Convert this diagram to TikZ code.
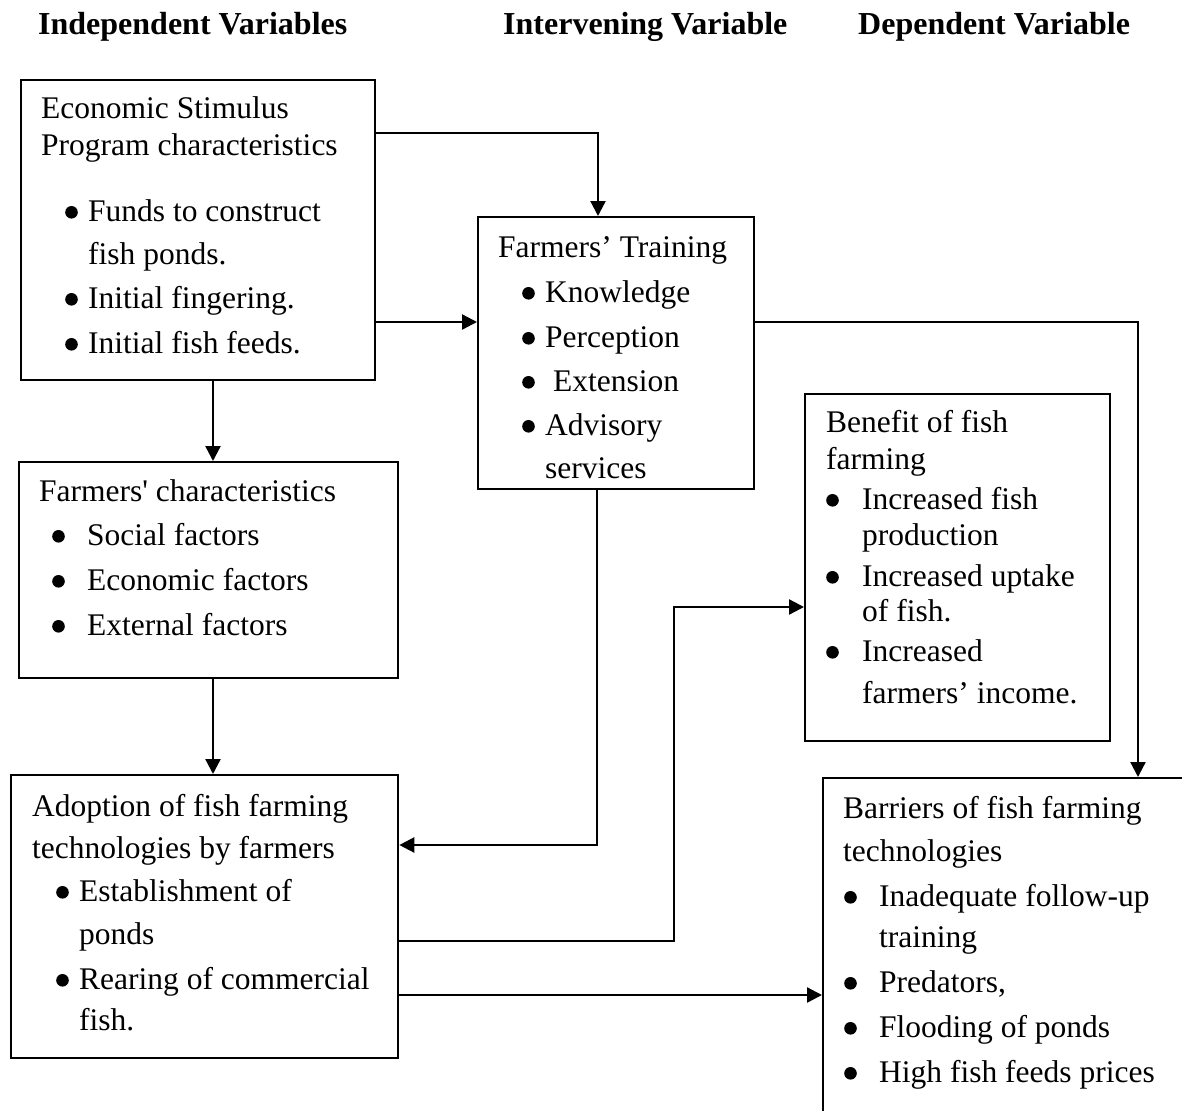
\documentclass[tikz,border=0pt]{standalone}
\usepackage{fontspec}
\setmainfont{Liberation Serif}
\usetikzlibrary{arrows.meta}
\newcommand\bul[1]{\llap{\makebox[#1][l]{\tikz[baseline=0pt]\fill[black] (6.3pt,8.7pt) circle[radius=6.3pt];}}}
\begin{document}
\begin{tikzpicture}[x=1pt,y=-1pt,
  box/.style={draw,line width=2.3pt,inner sep=0pt,anchor=north west},
  arr/.style={line width=2.3pt,-{Triangle[length=15pt,width=15pt]}},
  txt/.style={anchor=base west,inner sep=0pt,font=\fontsize{31.5}{38}\selectfont},
  hdr/.style={anchor=base west,inner sep=0pt,font=\fontsize{32}{38}\selectfont\bfseries}]
\useasboundingbox (0,0) rectangle (1182,1110);
\clip (0,0) rectangle (1182,1110);
\fill[white] (0,0) rectangle (1182,1110);
% headers
\node[hdr] (h1) at (38,35) {Independent Variables};
\node[hdr] (h2) at (503,35) {Intervening Variable};
\node[hdr] (h3) at (858,35) {Dependent Variable};
% boxes
\node[box,minimum width=354pt,minimum height=300pt] (esp) at (20,79) {};
\node[box,minimum width=276pt,minimum height=272pt] (train) at (477,216) {};
\node[box,minimum width=305pt,minimum height=347pt] (ben) at (804,393) {};
\node[box,minimum width=379pt,minimum height=216pt] (fchar) at (18,461) {};
\node[box,minimum width=387pt,minimum height=283pt] (adopt) at (10,774) {};
\node[box,minimum width=380pt,minimum height=360pt] (barr) at (822,777) {};
% box 1 text
\node[txt] (a1) at (41,119) {Economic Stimulus};
\node[txt] (a2) at (41,156) {Program characteristics};
\node[txt] (a3) at (88,221) {\bul{23pt}Funds to construct};
\node[txt] (a4) at (88,264) {fish ponds.};
\node[txt] (a5) at (88,308) {\bul{23pt}Initial fingering.};
\node[txt] (a6) at (88,353) {\bul{23pt}Initial fish feeds.};
% training text
\node[txt] (b1) at (498,257) {Farmers’ Training};
\node[txt] (b2) at (545,302) {\bul{23pt}Knowledge};
\node[txt] (b3) at (545,347) {\bul{23pt}Perception};
\node[txt] (b4) at (553,391) {\bul{31pt}Extension};
\node[txt] (b5) at (545,435) {\bul{23pt}Advisory};
\node[txt] (b6) at (545,478) {services};
% benefit text
\node[txt] (c1) at (826,432) {Benefit of fish};
\node[txt] (c2) at (826,469) {farming};
\node[txt] (c3) at (862,509) {\bul{36pt}Increased fish};
\node[txt] (c4) at (862,545) {production};
\node[txt] (c5) at (862,586) {\bul{36pt}Increased uptake};
\node[txt] (c6) at (862,621) {of fish.};
\node[txt] (c7) at (862,661) {\bul{36pt}Increased};
\node[txt] (c8) at (862,703) {farmers’ income.};
% farmers' characteristics text
\node[txt] (d1) at (39,501) {Farmers\textquotesingle{} characteristics};
\node[txt] (d2) at (87,545) {\bul{35pt}Social factors};
\node[txt] (d3) at (87,590) {\bul{35pt}Economic factors};
\node[txt] (d4) at (87,635) {\bul{35pt}External factors};
% adoption text
\node[txt] (e1) at (32,816) {Adoption of fish farming};
\node[txt] (e2) at (32,858) {technologies by farmers};
\node[txt] (e3) at (79,901) {\bul{23pt}Establishment of};
\node[txt] (e4) at (79,944) {ponds};
\node[txt] (e5) at (79,989) {\bul{23pt}Rearing of commercial};
\node[txt] (e6) at (79,1030) {fish.};
% barriers text
\node[txt] (f1) at (843,818) {Barriers of fish farming};
\node[txt] (f2) at (843,861) {technologies};
\node[txt] (f3) at (879,906) {\bul{35pt}Inadequate follow-up};
\node[txt] (f4) at (879,947) {training};
\node[txt] (f5) at (879,992) {\bul{35pt}Predators,};
\node[txt] (f6) at (879,1037) {\bul{35pt}Flooding of ponds};
\node[txt] (f7) at (879,1082) {\bul{35pt}High fish feeds prices};
% connectors
\draw[arr] (esp.east |- 0,133) -| (train.north -| 598,0);
\draw[arr] (esp.east |- 0,322) -- (train.west |- 0,322);
\draw[arr] (train.east |- 0,322) -| (barr.north -| 1138,0);
\draw[arr] (esp.south -| 213,0) -- (fchar.north -| 213,0);
\draw[arr] (fchar.south -| 213,0) -- (adopt.north -| 213,0);
\draw[arr] (train.south -| 597,0) |- (adopt.east |- 0,845);
\draw[arr] (adopt.east |- 0,941) -- (674,941) |- (ben.west |- 0,607);
\draw[arr] (adopt.east |- 0,995) -- (barr.west |- 0,995);
\end{tikzpicture}
\end{document}
